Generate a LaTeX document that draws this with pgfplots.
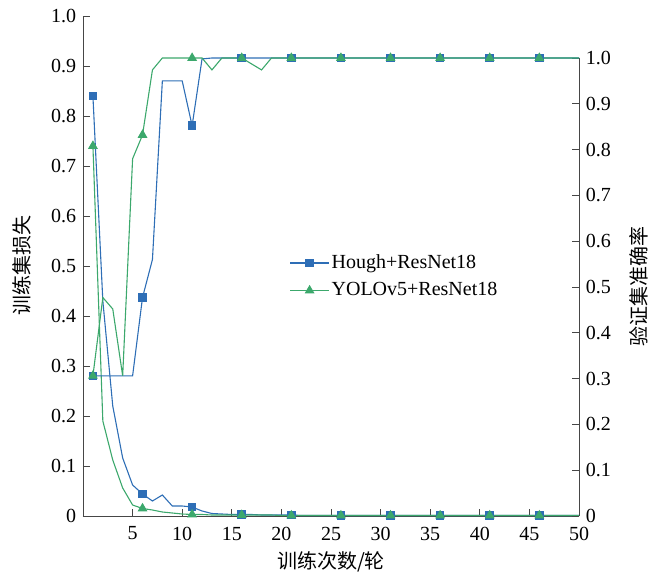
\documentclass[border=0pt]{standalone}
\usepackage{pgfplots}
\pgfplotsset{compat=1.18}
\usepackage{pgfplotstable}
\usepackage{fontspec}
\setmainfont{Liberation Serif}
\newfontfamily\cjk{Noto Sans CJK SC}
\definecolor{hblue}{RGB}{46,110,182}
\definecolor{ygreen}{RGB}{60,168,108}
\definecolor{axgray}{RGB}{70,70,70}

% x, Hough loss, YOLO loss, Hough acc, YOLO acc
\pgfplotstableread{
x  hl    yl    ha    ya
1  0.84  0.74  0.306 0.306
2  0.43  0.19  0.306 0.477
3  0.22  0.112 0.306 0.452
4  0.116 0.056 0.306 0.306
5  0.062 0.022 0.306 0.78
6  0.044 0.015 0.477 0.832
7  0.030 0.012 0.56  0.974
8  0.042 0.008 0.95  1.0
9  0.020 0.006 0.95  1.0
10 0.020 0.004 0.95  1.0
11 0.018 0.003 0.852 1.0
12 0.010 0.003 0.998 1.0
13 0.005 0.002 1.0   0.974
14 0.004 0.002 1.0   1.0
15 0.003 0.002 1.0   1.0
16 0.003 0.002 1.0   1.0
17 0.003 0.002 1.0   0.987
18 0.002 0.002 1.0   0.974
19 0.002 0.002 1.0   1.0
20 0.002 0.001 1.0   1.0
21 0.002 0.001 1.0   1.0
22 0.001 0.001 1.0   1.0
23 0.001 0.001 1.0   1.0
24 0.001 0.001 1.0   1.0
25 0.001 0.001 1.0   1.0
26 0.001 0.001 1.0   1.0
27 0.001 0.001 1.0   1.0
28 0.001 0.001 1.0   1.0
29 0.001 0.001 1.0   1.0
30 0.001 0.001 1.0   1.0
31 0.001 0.001 1.0   1.0
32 0.001 0.001 1.0   1.0
33 0.001 0.001 1.0   1.0
34 0.001 0.001 1.0   1.0
35 0.001 0.001 1.0   1.0
36 0.001 0.001 1.0   1.0
37 0.001 0.001 1.0   1.0
38 0.001 0.001 1.0   1.0
39 0.001 0.001 1.0   1.0
40 0.001 0.001 1.0   1.0
41 0.001 0.001 1.0   1.0
42 0.001 0.001 1.0   1.0
43 0.001 0.001 1.0   1.0
44 0.001 0.001 1.0   1.0
45 0.001 0.001 1.0   1.0
46 0.001 0.001 1.0   1.0
47 0.001 0.001 1.0   1.0
48 0.001 0.001 1.0   1.0
49 0.001 0.001 1.0   1.0
50 0.001 0.001 1.0   1.0
}\data

\pgfplotsset{
  base/.style={
    scale only axis, width=496bp,
    xmin=0, xmax=50, ymin=0, ymax=1,
    axis line style={axgray, line width=0.9bp, -},
    tick style={axgray, line width=0.9bp},
    tick align=inside, major tick length=7bp,
    clip=false,
    font=\fontsize{20bp}{24bp}\selectfont,
    /pgf/number format/assume math mode=true,
    ytick={0,0.1,0.2,0.3,0.4,0.5,0.6,0.7,0.8,0.9,1.0},
    yticklabels={0,0.1,0.2,0.3,0.4,0.5,0.6,0.7,0.8,0.9,1.0},
  },
  hough/.style={hblue, line width=1.1bp, mark=square*, mark size=3.8bp,
    mark repeat=5, mark phase=1, mark options={solid, fill=hblue}},
  yolo/.style={ygreen, line width=1.1bp, mark=triangle*, mark size=4.6bp,
    mark repeat=5, mark phase=1, mark options={solid, fill=ygreen}},
}

\begin{document}
\fontsize{20bp}{24bp}\selectfont
\begin{tikzpicture}
\path[use as bounding box] (-83bp,-59bp) rectangle (567bp,516bp);
\begin{axis}[base, height=500bp,
  axis x line*=bottom, axis y line*=left,
  xtick={5,10,...,50},
  xticklabel style={yshift=-4bp},
  xlabel={\cjk 训练次数/轮},
  xlabel style={at={(axis description cs:0.5,-0.092)}, anchor=center},
  ylabel={\cjk 训练集损失},
  ylabel style={at={(axis description cs:-0.123,0.5)}, anchor=center},
]
\addplot[hough] table[x=x, y=hl] {\data};
\addplot[yolo] table[x=x, y=yl] {\data};
\end{axis}
\begin{axis}[base, height=458bp,
  axis x line=none, axis y line*=right,
  xtick=\empty,
  ylabel={\cjk 验证集准确率},
  ylabel style={at={(axis description cs:1.121,0.5)}, anchor=center},
  legend style={draw=none, fill=none, at={(0.41,0.58)}, anchor=north west,
    legend cell align=left, row sep=7bp},
  legend image code/.code={\draw[mark repeat=2, mark phase=2]
    plot coordinates {(0bp,0bp) (19.5bp,0bp) (39bp,0bp)};},
]
\addplot[hough] table[x=x, y=ha] {\data};
\addlegendentry{Hough+ResNet18}
\addplot[yolo] table[x=x, y=ya] {\data};
\addlegendentry{YOLOv5+ResNet18}
\end{axis}
\end{tikzpicture}
\end{document}
